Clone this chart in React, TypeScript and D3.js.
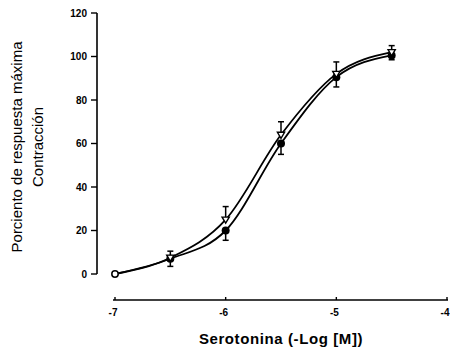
import React from "react";
import * as d3 from "d3";

// Serotonin concentration (-log M) and response (% of maximum)
const logDose = [-7, -6.5, -6, -5.5, -5, -4.5];
const openVals = [0, 7.5, 25, 64, 92, 102];
const openErr = [0, 3, 6, 6, 5.5, 3];
const filledVals = [0, 7, 20, 60, 90.5, 100.5];
const filledErr = [0, 3.5, 4.5, 5, 4.5, 2];

const yTicks = [0, 20, 40, 60, 80, 100, 120];
const xTicks = [-7, -6, -5, -4];

const W = 450;
const H = 348;

export default function App() {
  const x = d3.scaleLinear().domain([-7, -4]).range([115, 447]);
  const y = d3.scaleLinear().domain([0, 120]).range([274, 13]);
  const axisY = 300;
  const yAxisX = 97;

  const line = d3
    .line<[number, number]>()
    .x((d) => x(d[0]))
    .y((d) => y(d[1]))
    .curve(d3.curveMonotoneX);

  const openPts: [number, number][] = logDose.map((d, i) => [d, openVals[i]]);
  const filledPts: [number, number][] = logDose.map((d, i) => [d, filledVals[i]]);

  const tri = (cx: number, cy: number, s: number) =>
    `M${cx - s},${cy - s * 0.7}L${cx + s},${cy - s * 0.7}L${cx},${cy + s}Z`;

  const tickFont = "'Liberation Sans', Arial, sans-serif";
  const narrowFont = "'Liberation Sans Narrow', 'Liberation Sans', Arial, sans-serif";

  return (
    <div style={{ position: "fixed", left: 0, top: 0 }}>
      <svg width={W} height={H} style={{ display: "block", background: "#fff" }}>
        {/* y axis */}
        <line x1={yAxisX} x2={yAxisX} y1={y(120)} y2={y(0)} stroke="#000" strokeWidth={1.6} />
        {yTicks.map((t) => (
          <g key={t}>
            <line x1={yAxisX - 6} x2={yAxisX} y1={y(t)} y2={y(t)} stroke="#000" strokeWidth={1.4} />
            <text
              x={yAxisX - 10}
              y={y(t)}
              dy="0.35em"
              textAnchor="end"
              fontFamily={tickFont}
              fontWeight="bold"
              fontSize={10}
            >
              {t}
            </text>
          </g>
        ))}

        {/* x axis */}
        <line x1={x(-7) - 2} x2={x(-4) + 1} y1={axisY} y2={axisY} stroke="#000" strokeWidth={1.6} />
        {xTicks.map((t) => (
          <g key={t}>
            <line x1={x(t)} x2={x(t)} y1={axisY} y2={axisY - 3} stroke="#000" strokeWidth={1.4} />
            <text
              x={x(t) - 2}
              y={axisY + 16}
              textAnchor="middle"
              fontFamily={tickFont}
              fontWeight="bold"
              fontSize={10}
            >
              {t}
            </text>
          </g>
        ))}

        {/* axis titles */}
        <text
          x={281}
          y={344}
          textAnchor="middle"
          fontFamily={tickFont}
          fontWeight="bold"
          fontSize={15}
          letterSpacing={0.6}
        >
          Serotonina (-Log [M])
        </text>
        <g transform="translate(22,147) rotate(-90)">
          <text x={0} y={0} textAnchor="middle" fontFamily={narrowFont} fontSize={15}>
            Porciento de respuesta máxima
          </text>
          <text x={0} y={21} textAnchor="middle" fontFamily={narrowFont} fontSize={15}>
            Contracción
          </text>
        </g>

        {/* curves */}
        <path d={line(openPts) ?? ""} fill="none" stroke="#000" strokeWidth={1.8} />
        <path d={line(filledPts) ?? ""} fill="none" stroke="#000" strokeWidth={1.8} />

        {/* error bars: open series upward, filled series downward */}
        {logDose.map((d, i) =>
          i === 0 ? null : (
            <g key={"e" + d} stroke="#000" strokeWidth={1.5}>
              <line x1={x(d)} x2={x(d)} y1={y(openVals[i])} y2={y(openVals[i] + openErr[i])} />
              <line x1={x(d) - 3} x2={x(d) + 3} y1={y(openVals[i] + openErr[i])} y2={y(openVals[i] + openErr[i])} />
              <line x1={x(d)} x2={x(d)} y1={y(filledVals[i])} y2={y(filledVals[i] - filledErr[i])} />
              <line x1={x(d) - 3} x2={x(d) + 3} y1={y(filledVals[i] - filledErr[i])} y2={y(filledVals[i] - filledErr[i])} />
            </g>
          )
        )}

        {/* filled markers */}
        {logDose.map((d, i) =>
          i === 0 ? null : (
            <circle key={"f" + d} cx={x(d)} cy={y(filledVals[i])} r={4} fill="#000" />
          )
        )}
        {/* open markers */}
        {logDose.map((d, i) =>
          i === 0 ? (
            <circle key={"o" + d} cx={x(d)} cy={y(openVals[i])} r={3.2} fill="#fff" stroke="#000" strokeWidth={1.5} />
          ) : (
            <path key={"o" + d} d={tri(x(d), y(openVals[i]), 3.6)} fill="#fff" stroke="#000" strokeWidth={1.4} />
          )
        )}
      </svg>
    </div>
  );
}
